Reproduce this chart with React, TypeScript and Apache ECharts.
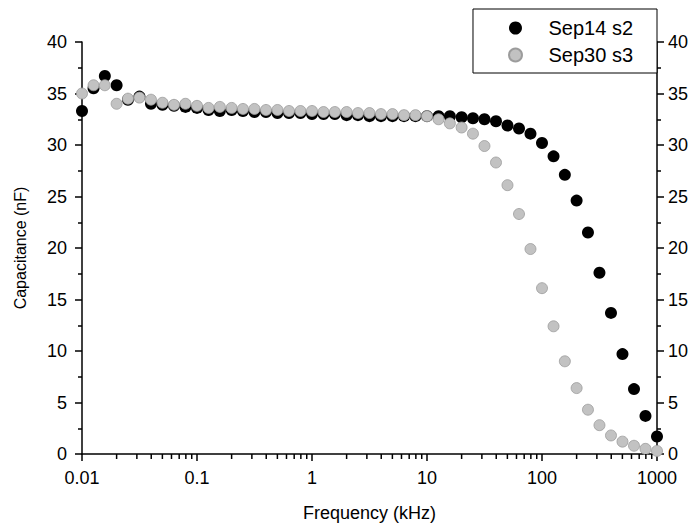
import React, { useEffect, useRef } from "react";
import * as echarts from "echarts";

// Frequency (kHz), 10 points per decade
const frequencies = [
  0.01, 0.0126, 0.0158, 0.02, 0.0251, 0.0316, 0.0398, 0.0501, 0.0631, 0.0794,
  0.1, 0.126, 0.158, 0.2, 0.251, 0.316, 0.398, 0.501, 0.631, 0.794,
  1, 1.26, 1.58, 2, 2.51, 3.16, 3.98, 5.01, 6.31, 7.94,
  10, 12.6, 15.8, 20, 25.1, 31.6, 39.8, 50.1, 63.1, 79.4,
  100, 126, 158, 200, 251, 316, 398, 501, 631, 794, 1000,
];

// Capacitance (nF)
const sep14s2 = [
  33.3, 35.5, 36.7, 35.8, 34.4, 34.7, 34.0, 33.9, 33.8, 33.7,
  33.6, 33.4, 33.3, 33.4, 33.3, 33.2, 33.2, 33.1, 33.1, 33.1,
  33.0, 33.0, 33.0, 32.9, 32.9, 32.8, 32.8, 32.8, 32.8, 32.8,
  32.8, 32.8, 32.8, 32.7, 32.6, 32.5, 32.3, 31.9, 31.6, 31.1,
  30.2, 28.9, 27.1, 24.6, 21.5, 17.6, 13.7, 9.7, 6.3, 3.7, 1.7,
];

const sep30s3 = [
  35.0, 35.8, 35.8, 34.0, 34.5, 34.6, 34.4, 34.1, 33.9, 34.0,
  33.8, 33.6, 33.7, 33.6, 33.5, 33.5, 33.4, 33.4, 33.3, 33.3,
  33.3, 33.2, 33.2, 33.2, 33.1, 33.1, 33.0, 33.0, 32.9, 32.9,
  32.8, 32.5, 32.1, 31.7, 31.1, 29.9, 28.3, 26.1, 23.3, 19.9,
  16.1, 12.4, 9.0, 6.4, 4.3, 2.8, 1.8, 1.2, 0.8, 0.5, 0.3,
];

const seriesNames = ["Sep14 s2", "Sep30 s3"];
const xTickLabels = ["0.01", "0.1", "1", "10", "100", "1000"];
const xMinorTicks = [
  0.02, 0.03, 0.04, 0.05, 0.06, 0.07, 0.08, 0.09,
  0.2, 0.3, 0.4, 0.5, 0.6, 0.7, 0.8, 0.9,
  2, 3, 4, 5, 6, 7, 8, 9,
  20, 30, 40, 50, 60, 70, 80, 90,
  200, 300, 400, 500, 600, 700, 800, 900,
];

const FONT = "'Liberation Sans', Arial, Helvetica, sans-serif";

export default function App() {
  const ref = useRef<HTMLDivElement>(null);

  useEffect(() => {
    if (!ref.current) return;
    const chart = echarts.init(ref.current, null, { renderer: "svg" });

    const axisLine = { show: true, onZero: false, lineStyle: { color: "#000", width: 1.5 } };
    const yAxisCommon = {
      type: "value",
      min: 0,
      max: 40,
      interval: 5,
      axisLine,
      axisTick: { show: true, inside: false, length: 7, lineStyle: { color: "#000", width: 1.5 } },
      minorTick: { show: true, splitNumber: 2, length: 4, lineStyle: { color: "#000", width: 1.5 } },
      splitLine: { show: false },
      axisLabel: { color: "#000", fontSize: 18, fontFamily: FONT },
    };

    chart.setOption({
      animation: false,
      backgroundColor: "#fff",
      grid: { left: 82, right: 38, top: 42, bottom: 73, outerBoundsMode: "none", containLabel: false },
      legend: {
        orient: "vertical",
        right: 38,
        top: 9,
        padding: [9, 24, 8, 35],
        itemGap: 7,
        itemWidth: 56,
        itemHeight: 13,
        backgroundColor: "#fff",
        borderColor: "#000",
        borderWidth: 1,
        borderRadius: 0,
        textStyle: { fontSize: 20, lineHeight: 20, color: "#000", fontFamily: FONT },
        data: seriesNames,
      },
      xAxis: {
        type: "log",
        logBase: 10,
        min: 0.01,
        max: 1000,
        position: "bottom",
        name: "Frequency (kHz)",
        nameLocation: "middle",
        nameGap: 50,
        nameTextStyle: { color: "#000", fontSize: 18, fontFamily: FONT },
        axisLine,
        axisTick: { show: true, inside: false, length: 7, lineStyle: { color: "#000", width: 1.5 } },
        splitLine: { show: false },
        axisLabel: {
          color: "#000",
          fontSize: 18,
          lineHeight: 18,
          fontFamily: FONT,
          margin: 15,
          formatter: (v: number) => xTickLabels[Math.round(Math.log10(v)) + 2] ?? String(v),
        },
      },
      yAxis: [
        {
          ...yAxisCommon,
          position: "left",
          name: "Capacitance (nF)",
          nameLocation: "middle",
          nameRotate: 90,
          nameGap: 54,
          nameTextStyle: { color: "#000", fontSize: 16, fontFamily: FONT },
          axisLabel: { ...yAxisCommon.axisLabel, margin: 15 },
        },
        {
          ...yAxisCommon,
          position: "right",
          axisLabel: { ...yAxisCommon.axisLabel, margin: 11 },
        },
      ],
      series: [
        {
          name: seriesNames[0],
          type: "scatter",
          symbol: "circle",
          symbolSize: 12,
          itemStyle: { color: "#000", opacity: 1 },
          data: frequencies.map((f, i) => [f, sep14s2[i]]),
        },
        {
          name: seriesNames[1],
          type: "scatter",
          symbol: "circle",
          symbolSize: 11,
          itemStyle: { color: "#c2c2c2", borderColor: "#9c9c9c", borderWidth: 0.8, opacity: 1 },
          data: frequencies.map((f, i) => [f, sep30s3[i]]),
        },
        {
          // minor ticks of the logarithmic frequency axis
          type: "custom",
          clip: false,
          z: 5,
          data: xMinorTicks.map((v) => [v, 0]),
          encode: { x: 0, y: 1 },
          renderItem: (_params: any, api: any) => {
            const p = api.coord([api.value(0), 0]);
            return {
              type: "rect",
              shape: { x: p[0] - 0.75, y: p[1], width: 1.5, height: 5 },
              style: { fill: "#000" },
            };
          },
        },
      ],
    });

    return () => chart.dispose();
  }, []);

  return (
    <div
      ref={ref}
      style={{ position: "fixed", left: 0, top: 0, width: 695, height: 527, background: "#fff" }}
    />
  );
}
